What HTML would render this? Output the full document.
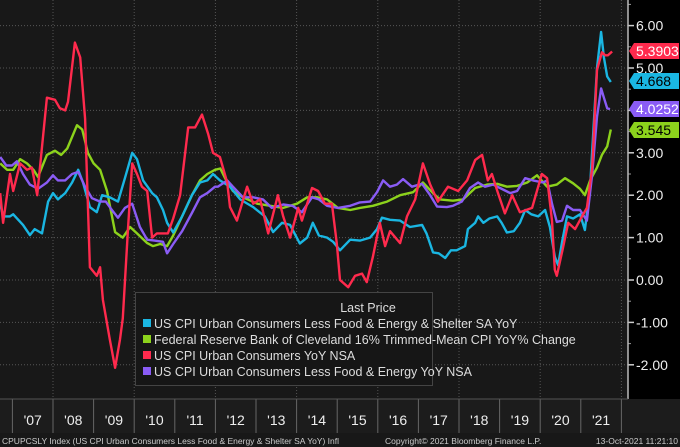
<!DOCTYPE html>
<html><head><meta charset="utf-8"><style>
body{margin:0;background:#000;width:680px;height:447px;overflow:hidden;font-family:"Liberation Sans",sans-serif}
svg{display:block}
</style></head><body>
<svg id="chart" width="680" height="447">
<rect x="0" y="0" width="628" height="399" fill="#181818"/>
<rect x="628" y="0" width="52" height="399" fill="#000"/>
<rect x="0" y="399" width="680" height="34" fill="#1c1c1c"/>
<rect x="0" y="433" width="680" height="14" fill="#181818"/>
<g id="grid"></g><g id="xaxis"></g><g id="yaxis"></g><g id="series"></g><g id="tags"></g>
<line x1="628" y1="0" x2="628" y2="399" stroke="#bbb" stroke-width="1.5"/>
<line x1="0" y1="399" x2="628" y2="399" stroke="#555"/>
<g>
<rect x="135.5" y="292.5" width="297" height="93" fill="#161616" stroke="#444"/>
<text x="368" y="312" fill="#ddd" font-size="12.5" text-anchor="middle">Last Price</text>
<g><rect x="143" y="319" width="8" height="8" fill="#1ab6e2"/><text x="154" y="328" fill="#ddd" font-size="12.5">US CPI Urban Consumers Less Food &amp; Energy &amp; Shelter SA YoY</text></g>
<g><rect x="143" y="335" width="8" height="8" fill="#8cd21c"/><text x="154" y="344" fill="#ddd" font-size="12.5">Federal Reserve Bank of Cleveland 16% Trimmed-Mean CPI YoY% Change</text></g>
<g><rect x="143" y="351" width="8" height="8" fill="#ff2a4d"/><text x="154" y="360" fill="#ddd" font-size="12.5">US CPI Urban Consumers YoY NSA</text></g>
<g><rect x="143" y="367" width="8" height="8" fill="#8a5cf5"/><text x="154" y="376" fill="#ddd" font-size="12.5">US CPI Urban Consumers Less Food &amp; Energy YoY NSA</text></g>
</g>
<text x="2" y="444" fill="#ccc" font-size="8.5">CPUPCSLY Index (US CPI Urban Consumers Less Food &amp; Energy &amp; Shelter SA YoY) Infl</text>
<text x="385" y="444" fill="#ccc" font-size="8.5">Copyright© 2021 Bloomberg Finance L.P.</text>
<text x="678" y="444" fill="#ccc" font-size="8.5" text-anchor="end">13-Oct-2021 11:21:10</text>
</svg>
<script>
const yearLabels=["'07","'08","'09","'10","'11","'12","'13","'14","'15","'16","'17","'18","'19","'20","'21"];
const yTicks=[-2,-1,0,1,2,3,4,5,6];
const yTickLabels=["-2.00","-1.00","0.00","1.00","2.00","3.00","4.00","5.00","6.00"];
const redDates=[2006.70,2006.77,2006.94,2007.02,2007.19,2007.36,2007.48,2007.61,2007.85,2008.05,2008.17,2008.30,2008.37,2008.54,2008.67,2008.79,2008.91,2009.08,2009.16,2009.23,2009.40,2009.53,2009.65,2009.72,2009.85,2009.95,2010.07,2010.19,2010.32,2010.44,2010.56,2010.71,2010.83,2010.96,2011.13,2011.33,2011.50,2011.67,2011.82,2011.94,2012.11,2012.29,2012.36,2012.53,2012.78,2012.93,2013.10,2013.30,2013.54,2013.67,2013.84,2014.04,2014.13,2014.38,2014.53,2014.70,2014.87,2014.99,2015.07,2015.27,2015.44,2015.61,2015.73,2015.88,2016.05,2016.18,2016.30,2016.55,2016.72,2016.92,2017.11,2017.29,2017.48,2017.73,2017.98,2018.20,2018.40,2018.57,2018.71,2018.81,2018.96,2019.13,2019.31,2019.50,2019.80,2020.04,2020.17,2020.29,2020.36,2020.41,2020.56,2020.69,2020.86,2021.03,2021.15,2021.28,2021.40,2021.52,2021.60,2021.67,2021.77];
const redValues=[2.05,1.35,2.5,2.1,2.75,2.6,2.65,2.0,4.3,4.25,4.05,4.0,4.2,5.6,5.25,3.8,0.3,0.1,0.3,-0.47,-1.4,-2.07,-1.4,-0.9,1.25,2.75,2.5,2.2,2.1,1.0,1.1,1.1,1.1,1.45,2.0,3.6,3.6,3.9,3.45,3.0,2.9,2.3,1.72,1.4,2.2,1.8,1.9,1.1,2.0,1.5,1.0,1.7,1.4,2.17,2.1,1.8,1.8,0.86,0.0,-0.17,0.1,0.15,-0.05,0.55,1.35,0.8,1.15,0.87,1.5,1.9,2.75,2.25,1.85,2.2,2.1,2.35,2.83,2.95,2.35,2.5,2.05,1.57,2.0,1.6,1.7,2.5,2.4,1.4,0.24,0.1,0.75,1.35,1.2,1.5,1.7,2.65,4.95,5.37,5.3,5.3,5.39];
const cyanDates=[
2006.70,2006.77,2006.94,2007.02,2007.26,2007.43,2007.55,2007.73,2007.88,2008.00,
2008.12,2008.30,2008.47,2008.62,2008.74,2008.91,2009.08,2009.21,2009.40,2009.60,
2009.77,2009.95,2010.07,2010.22,2010.44,2010.56,2010.71,2010.81,2010.96,2011.18,
2011.42,2011.62,2011.80,2011.94,2012.11,2012.36,2012.61,2012.93,2013.22,2013.42,
2013.64,2013.84,2014.08,2014.26,2014.40,2014.55,2014.75,2014.90,2015.07,2015.32,
2015.56,2015.81,2015.98,2016.10,2016.30,2016.55,2016.79,2017.09,2017.20,2017.36,
2017.50,2017.66,2017.80,2017.94,2018.15,2018.22,2018.40,2018.47,2018.60,2018.75,
2018.94,2019.05,2019.18,2019.35,2019.50,2019.63,2019.78,2019.95,2020.12,2020.24,
2020.36,2020.44,2020.54,2020.66,2020.81,2020.98,2021.10,2021.23,2021.40,2021.50,
2021.57,2021.65,2021.74];
const cyanValues=[
1.8,1.5,1.5,1.55,1.3,1.06,1.2,1.1,1.85,2.05,
1.9,2.05,2.3,2.6,2.3,1.72,1.6,2.0,1.95,1.85,
2.4,3.0,2.85,2.35,2.05,1.95,1.65,1.35,1.12,1.5,
2.0,2.3,2.35,2.5,2.35,2.2,1.9,1.72,1.5,1.13,
1.35,1.3,0.86,1.0,1.35,1.05,1.0,0.9,0.7,0.95,
0.93,1.0,1.2,1.47,1.42,1.4,1.25,1.3,1.1,0.65,
0.63,0.52,0.7,0.7,0.8,1.2,1.35,1.5,1.35,1.45,
1.5,1.35,1.12,1.15,1.35,1.65,1.55,1.5,1.65,1.25,
0.55,0.35,0.9,1.5,1.45,1.55,1.18,2.2,5.0,5.85,
5.25,4.8,4.67];
const greenDates=[2006.70,2006.87,2007.02,2007.19,2007.36,2007.52,2007.63,2007.85,2008.05,2008.20,2008.35,2008.59,2008.72,2008.86,2009.00,2009.16,2009.33,2009.53,2009.72,2009.90,2010.07,2010.32,2010.46,2010.64,2010.81,2010.96,2011.18,2011.42,2011.62,2011.80,2011.99,2012.12,2012.24,2012.43,2012.68,2013.03,2013.35,2013.67,2014.01,2014.26,2014.50,2014.75,2015.02,2015.32,2015.56,2015.88,2016.23,2016.55,2016.87,2017.11,2017.36,2017.53,2017.85,2018.10,2018.40,2018.69,2018.94,2019.18,2019.43,2019.68,2019.92,2020.17,2020.41,2020.61,2020.81,2020.98,2021.10,2021.23,2021.40,2021.52,2021.65,2021.74];
const greenValues=[2.75,2.6,2.6,2.85,2.75,2.6,2.43,2.95,3.05,2.95,3.1,3.65,3.55,3.0,2.75,2.6,2.1,1.13,1.0,1.25,1.1,0.87,0.8,0.85,0.8,1.05,1.5,2.0,2.35,2.5,2.6,2.63,2.4,2.1,1.95,1.8,1.75,1.7,1.8,1.95,1.95,1.9,1.7,1.65,1.7,1.75,1.85,2.0,2.07,2.3,2.05,1.9,1.87,1.9,2.17,2.25,2.27,2.2,2.22,2.3,2.47,2.2,2.25,2.4,2.28,2.15,2.0,2.35,2.65,2.95,3.15,3.55];
const purpleDates=[2006.70,2006.85,2006.99,2007.11,2007.26,2007.43,2007.63,2007.85,2008.00,2008.12,2008.30,2008.47,2008.62,2008.79,2008.96,2009.16,2009.30,2009.45,2009.60,2009.77,2009.95,2010.14,2010.32,2010.50,2010.71,2010.81,2010.96,2011.18,2011.42,2011.62,2011.80,2011.99,2012.06,2012.19,2012.29,2012.43,2012.68,2012.93,2013.17,2013.39,2013.67,2013.90,2014.13,2014.38,2014.55,2014.75,2015.02,2015.32,2015.56,2015.81,2015.98,2016.13,2016.30,2016.47,2016.62,2016.84,2017.09,2017.29,2017.46,2017.70,2017.85,2018.07,2018.27,2018.47,2018.64,2018.84,2019.01,2019.26,2019.43,2019.63,2019.82,2020.07,2020.17,2020.29,2020.41,2020.54,2020.66,2020.81,2020.98,2021.15,2021.28,2021.40,2021.50,2021.57,2021.65,2021.72];
const purpleValues=[2.9,2.7,2.7,2.8,2.5,2.25,2.15,2.3,2.47,2.35,2.35,2.5,2.55,2.2,1.93,1.85,1.85,1.65,1.47,1.7,1.8,1.25,0.95,0.93,0.9,0.63,0.85,1.15,1.58,1.95,2.05,2.2,2.2,2.28,2.35,2.2,1.95,1.95,1.9,1.7,1.78,1.75,1.6,1.95,1.9,1.75,1.7,1.75,1.83,1.85,2.07,2.35,2.2,2.25,2.38,2.2,2.27,2.0,1.73,1.72,1.75,1.85,2.17,2.3,2.2,2.25,2.17,2.05,2.1,2.4,2.35,2.3,2.35,1.8,1.37,1.4,1.75,1.65,1.65,1.4,2.5,3.85,4.52,4.3,4.05,4.03];
const tagValues=[5.3903,4.668,4.0252,3.545];
const tagLabels=["5.3903","4.668","4.0252","3.545"];

const X0=12.4, PXY=40.6, Y0=280, PXV=42.4;
function xs(yr){return X0+(yr-2007)*PXY;}
function ys(v){return Y0-v*PXV;}
const NS="http://www.w3.org/2000/svg";
function mk(tag,attrs,parent){const e=document.createElementNS(NS,tag);for(const k in attrs)e.setAttribute(k,attrs[k]);parent.appendChild(e);return e;}
const grid=document.getElementById('grid'),xa=document.getElementById('xaxis'),ya=document.getElementById('yaxis'),sg=document.getElementById('series'),tg=document.getElementById('tags');
yTicks.forEach((t,i)=>{
  const l=mk('line',{x1:0,x2:628,y1:ys(t),y2:ys(t),stroke:'#555','stroke-dasharray':'1,2'},grid);
  
  
  const tk=mk('line',{x1:628,x2:634,y1:ys(t),y2:ys(t),stroke:'#ccc','stroke-width':1.5},ya);
  
  
  const mt=mk('line',{x1:628,x2:631,y1:ys(t+0.5),y2:ys(t+0.5),stroke:'#999'},ya);
  
  
  const tx=mk('text',{x:636,y:ys(t)+5,fill:'#eee','font-size':14},ya);
  tx.textContent=yTickLabels[i];
  
  
});
for(let k=0;k<=yearLabels.length;k++){
  if(k%2===1){
    const g=mk('line',{x1:xs(2007+k),x2:xs(2007+k),y1:0,y2:399,stroke:'#555','stroke-dasharray':'1,2'},grid);
    
    
  }
  const s=mk('line',{x1:xs(2007+k),x2:xs(2007+k),y1:399,y2:433,stroke:'#666'},xa);
  
  
}
yearLabels.forEach((lb,i)=>{
  const t=mk('text',{x:xs(2007+i+0.5),y:425,fill:'#eee','font-size':14,'text-anchor':'middle'},xa);
  t.textContent=lb;
  
  
});
function line(d,v,c,name){
  const n=Math.min(d.length,v.length);
  const pts=[];for(let i=0;i<n;i++)pts.push(xs(d[i]).toFixed(1)+','+ys(v[i]).toFixed(1));
  const p=mk('polyline',{points:pts.join(' '),fill:'none',stroke:c,'stroke-width':2.4,'stroke-linejoin':'round'},sg);
  
  
}
line(greenDates,greenValues,'#8cd21c','series-trimmed-mean-cpi');
line(cyanDates,cyanValues,'#1ab6e2','series-core-ex-shelter');
line(purpleDates,purpleValues,'#8a5cf5','series-core-cpi');
line(redDates,redValues,'#ff2a4d','series-headline-cpi');
const tagColors=['#ff2a4d','#1ab6e2','#8a5cf5','#8cd21c'];
const tagText=['#fff','#000','#fff','#000'];
const tagY=[51,81,109,130];
tagValues.forEach((v,i)=>{
  const y=tagY[i];
  const p=mk('polygon',{points:`629,${y} 634,${y-8} 679,${y-8} 679,${y+8} 634,${y+8}`,fill:tagColors[i]},tg);
  
  
  const t=mk('text',{x:636,y:y+5,fill:tagText[i],'font-size':14},tg);
  t.textContent=tagLabels[i];
  
  
});
</script>
</body></html>
